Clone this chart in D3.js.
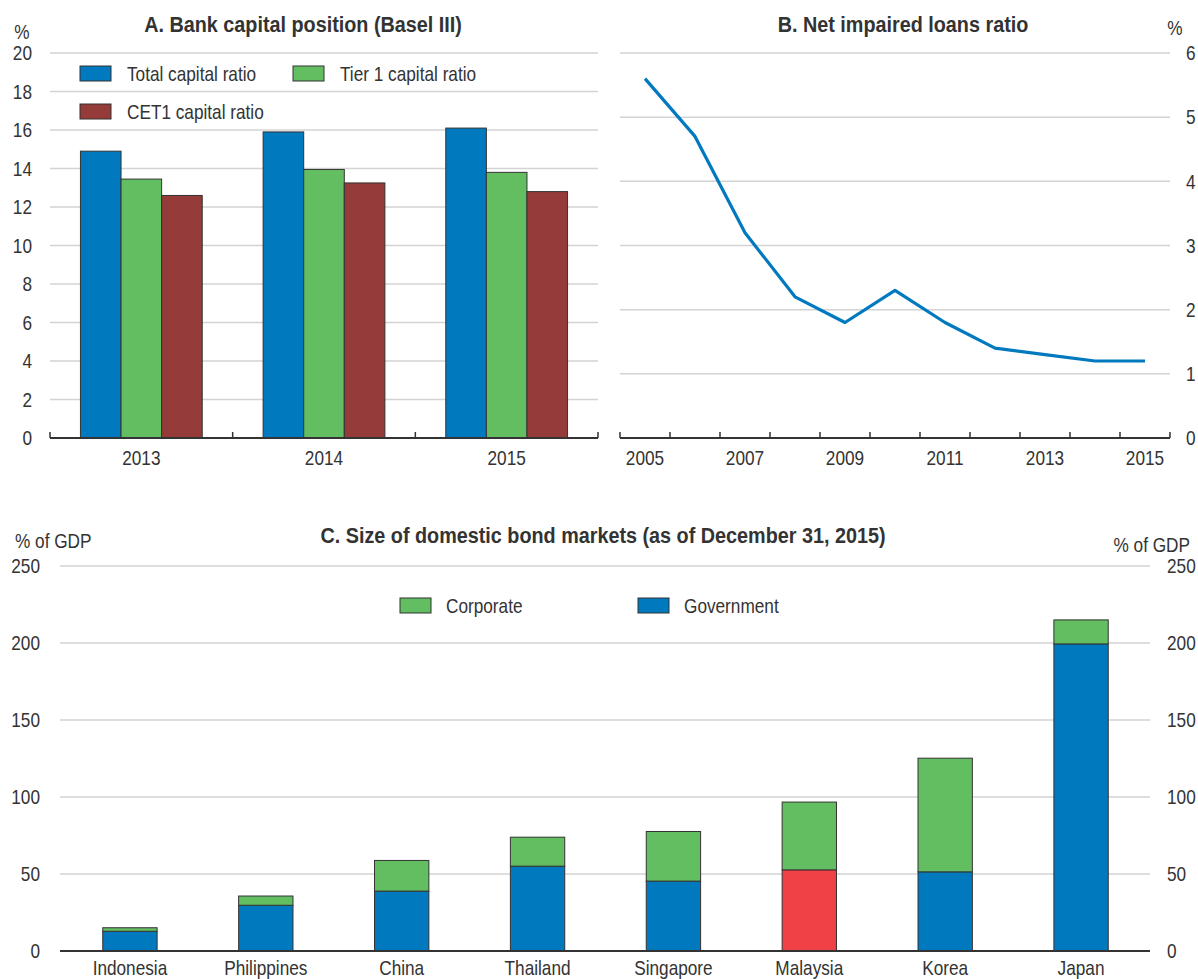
<!DOCTYPE html>
<html>
<head>
<meta charset="utf-8">
<script src="https://cdn.jsdelivr.net/npm/d3@7"></script>
<style>
  html, body { margin: 0; padding: 0; background: #fff; }
  svg { display: block; }
  text { font-family: "Liberation Sans", Arial, sans-serif; fill: #333; }
  .title { font-weight: bold; font-size: 22px; }
  .lbl { font-size: 21px; }
</style>
</head>
<body>
<svg id="chart" width="1198" height="979"></svg>
<script>
// ---------- Data ----------
const capYears = ["2013", "2014", "2015"];
const capSeries = ["Total capital ratio", "Tier 1 capital ratio", "CET1 capital ratio"];
const totalCapital = [14.9, 15.9, 16.1];
const tier1Capital = [13.45, 13.95, 13.8];
const cet1Capital = [12.6, 13.25, 12.8];
const capTicks = [0, 2, 4, 6, 8, 10, 12, 14, 16, 18, 20];

const nplYears = [2005, 2006, 2007, 2008, 2009, 2010, 2011, 2012, 2013, 2014, 2015];
const nplValues = [5.6, 4.7, 3.2, 2.2, 1.8, 2.3, 1.8, 1.4, 1.3, 1.2, 1.2];
const nplTicks = [0, 1, 2, 3, 4, 5, 6];
const nplLabelYears = [2005, 2007, 2009, 2011, 2013, 2015];

const countries = ["Indonesia", "Philippines", "China", "Thailand", "Singapore", "Malaysia", "Korea", "Japan"];
const government = [12.8, 29.7, 38.9, 55.1, 45.4, 52.7, 51.4, 199.4];
const corporate = [2.3, 6.0, 19.9, 18.8, 32.2, 44.0, 73.8, 15.6];
const bondTicks = [0, 50, 100, 150, 200, 250];
const bondSeries = ["Corporate", "Government"];

// ---------- Styles ----------
const C_BLUE = "#0079bf", C_GREEN = "#63be62", C_DRED = "#953b39", C_RED = "#ef4146";
const GRID = "#d3d3d3", AXIS = "#333", STROKE = "#333";
const svg = d3.select("#chart");
const fmtInt = d3.format("d");

function styleAxis(g) {
  g.select(".domain").remove();
  g.selectAll(".tick line").remove();
  g.selectAll("text").attr("class", "lbl").attr("fill", null);
}

// ========== Panel A ==========
const A = { left: 50, right: 598, top: 53, bottom: 438 };
const xA = d3.scaleBand().domain(capYears).range([A.left, A.right]).paddingInner(1/3).paddingOuter(1/6);
const xA1 = d3.scaleBand().domain(capSeries).range([0, xA.bandwidth()]);
const yA = d3.scaleLinear().domain([0, 20]).range([A.bottom, A.top]);
const gA = svg.append("g");

gA.append("g").selectAll("line").data(capTicks.filter(d => d > 0)).join("line")
  .attr("x1", A.left).attr("x2", A.right).attr("y1", d => yA(d)).attr("y2", d => yA(d))
  .attr("stroke", GRID).attr("stroke-width", 1.5);

gA.append("g").attr("transform", `translate(32,0)`)
  .call(d3.axisLeft(yA).tickValues(capTicks).tickFormat(fmtInt).tickSize(0).tickPadding(0))
  .call(styleAxis);

const capData = capYears.map((y, i) => ({ year: y, vals: [totalCapital[i], tier1Capital[i], cet1Capital[i]] }));
const capColors = d3.scaleOrdinal().domain(capSeries).range([C_BLUE, C_GREEN, C_DRED]);
gA.append("g").selectAll("g").data(capData).join("g")
  .attr("transform", d => `translate(${xA(d.year)},0)`)
  .selectAll("rect").data(d => d.vals.map((v, j) => ({ s: capSeries[j], v }))).join("rect")
  .attr("x", d => xA1(d.s)).attr("width", xA1.bandwidth())
  .attr("y", d => yA(d.v)).attr("height", d => yA(0) - yA(d.v))
  .attr("fill", d => capColors(d.s)).attr("stroke", STROKE).attr("stroke-width", 1);

const offA = (xA.step() - xA.bandwidth()) / 2;
const bA = capYears.map(d => xA(d) - offA).concat([xA(capYears[2]) + xA.bandwidth() + offA]);
gA.append("line").attr("x1", A.left).attr("x2", A.right).attr("y1", A.bottom).attr("y2", A.bottom)
  .attr("stroke", AXIS).attr("stroke-width", 2);
gA.append("g").selectAll("line").data(bA).join("line")
  .attr("x1", d => d).attr("x2", d => d).attr("y1", A.bottom).attr("y2", A.bottom - 6)
  .attr("stroke", AXIS).attr("stroke-width", 1.5);
gA.append("g").attr("transform", `translate(0,${A.bottom + 8})`)
  .call(d3.axisBottom(xA).tickSize(0).tickPadding(4))
  .call(styleAxis);

gA.append("text").attr("class", "title").attr("x", 303).attr("y", 32).attr("text-anchor", "middle")
  .text("A.  Bank capital position (Basel III)");
gA.append("text").attr("class", "lbl").attr("x", 22).attr("y", 39).attr("text-anchor", "middle").text("%");

const legA = [
  { s: capSeries[0], x: 80, y: 66 },
  { s: capSeries[1], x: 293, y: 66 },
  { s: capSeries[2], x: 80, y: 104 }
];
const lgA = gA.append("g").selectAll("g").data(legA).join("g").attr("transform", d => `translate(${d.x},${d.y})`);
lgA.append("rect").attr("width", 31).attr("height", 15).attr("fill", d => capColors(d.s)).attr("stroke", STROKE).attr("stroke-width", 1);
lgA.append("text").attr("class", "lbl").attr("x", 47).attr("y", 15).text(d => d.s);

// ========== Panel B ==========
const B = { left: 620, right: 1170, top: 53, bottom: 438 };
const xB = d3.scaleBand().domain(nplYears).range([B.left, B.right]).padding(0);
const yB = d3.scaleLinear().domain([0, 6]).range([B.bottom, B.top]);
const gB = svg.append("g");

gB.append("g").selectAll("line").data(nplTicks.filter(d => d > 0)).join("line")
  .attr("x1", B.left).attr("x2", B.right).attr("y1", d => yB(d)).attr("y2", d => yB(d))
  .attr("stroke", GRID).attr("stroke-width", 1.5);

gB.append("g").attr("transform", `translate(1186,0)`)
  .call(d3.axisRight(yB).tickValues(nplTicks).tickFormat(fmtInt).tickSize(0).tickPadding(0))
  .call(styleAxis);

gB.append("line").attr("x1", B.left).attr("x2", B.right).attr("y1", B.bottom).attr("y2", B.bottom)
  .attr("stroke", AXIS).attr("stroke-width", 2);
const bB = nplYears.map(d => xB(d)).concat([B.right]);
gB.append("g").selectAll("line").data(bB).join("line")
  .attr("x1", d => d).attr("x2", d => d).attr("y1", B.bottom).attr("y2", B.bottom - 6)
  .attr("stroke", AXIS).attr("stroke-width", 1.5);
gB.append("g").attr("transform", `translate(0,${B.bottom + 8})`)
  .call(d3.axisBottom(xB).tickValues(nplLabelYears).tickFormat(fmtInt).tickSize(0).tickPadding(4))
  .call(styleAxis);

const lineB = d3.line().x((d, i) => xB(nplYears[i]) + xB.bandwidth() / 2).y(d => yB(d));
gB.append("path").datum(nplValues).attr("d", lineB).attr("fill", "none")
  .attr("stroke", C_BLUE).attr("stroke-width", 3.2).attr("stroke-linejoin", "round");

gB.append("text").attr("class", "title").attr("x", 903).attr("y", 32).attr("text-anchor", "middle")
  .text("B. Net impaired loans ratio");
gB.append("text").attr("class", "lbl").attr("x", 1175).attr("y", 35).attr("text-anchor", "middle").text("%");

// ========== Panel C ==========
const Cp = { left: 60, right: 1150, top: 566, bottom: 951 };
const xC = d3.scaleBand().domain(countries).range([62, 1149]).paddingInner(0.6).paddingOuter(0.3);
const yC = d3.scaleLinear().domain([0, 250]).range([Cp.bottom, Cp.top]);
const gC = svg.append("g");

gC.append("g").selectAll("line").data(bondTicks.filter(d => d > 0)).join("line")
  .attr("x1", Cp.left).attr("x2", Cp.right).attr("y1", d => yC(d)).attr("y2", d => yC(d))
  .attr("stroke", GRID).attr("stroke-width", 1.5);

gC.append("g").attr("transform", `translate(40,0)`)
  .call(d3.axisLeft(yC).tickValues(bondTicks).tickFormat(fmtInt).tickSize(0).tickPadding(0))
  .call(styleAxis);
gC.append("g").attr("transform", `translate(1167,0)`)
  .call(d3.axisRight(yC).tickValues(bondTicks).tickFormat(fmtInt).tickSize(0).tickPadding(0))
  .call(styleAxis);

const bondRows = countries.map((c, i) => ({ country: c, Government: government[i], Corporate: corporate[i] }));
const stack = d3.stack().keys(["Government", "Corporate"])(bondRows);
const bondColor = { Government: C_BLUE, Corporate: C_GREEN };
gC.append("g").selectAll("g").data(stack).join("g")
  .selectAll("rect").data(s => s.map(d => ({ key: s.key, d }))).join("rect")
  .attr("x", e => xC(e.d.data.country)).attr("width", xC.bandwidth())
  .attr("y", e => yC(e.d[1])).attr("height", e => yC(e.d[0]) - yC(e.d[1]))
  .attr("fill", e => (e.key === "Government" && e.d.data.country === "Malaysia") ? C_RED : bondColor[e.key])
  .attr("stroke", STROKE).attr("stroke-width", 1);

gC.append("line").attr("x1", Cp.left).attr("x2", Cp.right).attr("y1", Cp.bottom).attr("y2", Cp.bottom)
  .attr("stroke", AXIS).attr("stroke-width", 2);
gC.append("g").attr("transform", `translate(0,${Cp.bottom + 5})`)
  .call(d3.axisBottom(xC).tickSize(0).tickPadding(4))
  .call(styleAxis);

gC.append("text").attr("class", "title").attr("x", 603).attr("y", 543).attr("text-anchor", "middle")
  .text("C. Size of domestic bond markets (as of December 31, 2015)");
gC.append("text").attr("class", "lbl").attr("x", 15).attr("y", 548).text("% of GDP");
gC.append("text").attr("class", "lbl").attr("x", 1190).attr("y", 552).attr("text-anchor", "end").text("% of GDP");

const legC = [{ s: "Corporate", x: 400 }, { s: "Government", x: 638 }];
const lgC = gC.append("g").selectAll("g").data(legC).join("g").attr("transform", d => `translate(${d.x},598)`);
lgC.append("rect").attr("width", 31).attr("height", 15).attr("fill", d => bondColor[d.s]).attr("stroke", STROKE).attr("stroke-width", 1);
lgC.append("text").attr("class", "lbl").attr("x", 46).attr("y", 15).text(d => d.s);

// ---------- Condense all texts horizontally (narrow typeface look) ----------
svg.selectAll("text").each(function () {
  const t = d3.select(this);
  const k = t.classed("title") ? 0.9 : 0.82;
  const tx = +t.attr("x") || 0, ty = +t.attr("y") || 0;
  t.attr("x", 0).attr("y", 0).attr("transform", `translate(${tx},${ty}) scale(${k},1)`);
});
</script>
</body>
</html>
